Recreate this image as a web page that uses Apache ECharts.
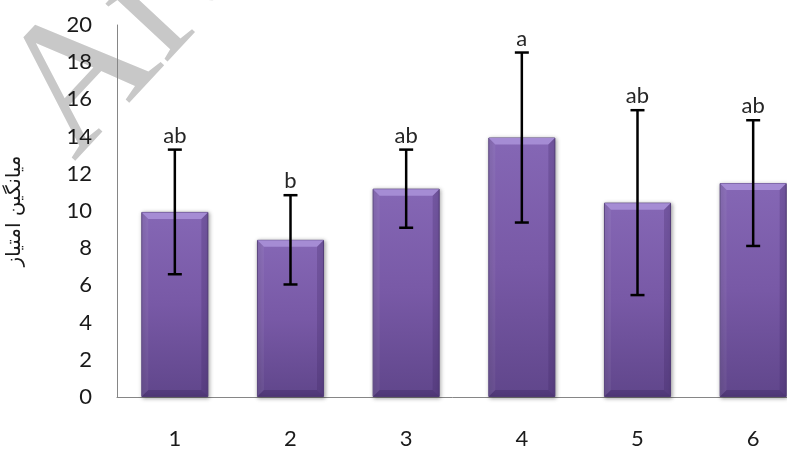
<!DOCTYPE html>
<html>
<head>
<meta charset="utf-8">
<script src="https://cdn.jsdelivr.net/npm/echarts@6/dist/echarts.min.js"></script>
<style>
html,body{margin:0;padding:0;background:#fff;overflow:hidden;}
#chart{width:787px;height:450px;}
</style>
</head>
<body>
<div id="chart"></div>
<script>
var categories = ['1', '2', '3', '4', '5', '6'];
var means = [9.95, 8.45, 11.2, 13.95, 10.45, 11.5];
var errors = [3.35, 2.4, 2.1, 4.57, 4.97, 3.38];
var letters = ['ab', 'b', 'ab', 'a', 'ab', 'ab'];
var yTicks = [0, 2, 4, 6, 8, 10, 12, 14, 16, 18, 20];
var yTitle = 'میانگین امتیاز';
var watermark = 'Archive of SID';

var chart = echarts.init(document.getElementById('chart'));

var barData = means.map(function (m, i) { return [i, m]; });
var errData = means.map(function (m, i) { return [i, m - errors[i], m + errors[i], m]; });

var option = {
  animation: false,
  backgroundColor: '#ffffff',
  graphic: [{
    type: 'text',
    x: 106, y: 192,
    rotation: 47 * Math.PI / 180,
    z: -1,
    silent: true,
    style: {
      text: watermark,
      font: '185px "Liberation Serif"',
      fill: '#c8c8c8',
      textAlign: 'left',
      textVerticalAlign: 'bottom'
    }
  }],
  grid: { left: 117, top: 25, width: 694, bottom: 53, containLabel: false, outerBoundsMode: 'none' },
  xAxis: {
    type: 'category',
    data: categories,
    axisLine: { lineStyle: { color: '#868686', width: 1 } },
    axisTick: { show: false },
    axisLabel: { color: '#1a1a1a', fontFamily: 'Lato', fontSize: 22, margin: 31 }
  },
  yAxis: {
    type: 'value',
    min: yTicks[0], max: yTicks[yTicks.length - 1], interval: 2,
    name: yTitle,
    nameLocation: 'middle',
    nameRotate: 90,
    nameGap: 92,
    nameTextStyle: { color: '#1a1a1a', fontFamily: 'DejaVu Sans', fontSize: 20 },
    axisLine: { show: true, lineStyle: { color: '#868686', width: 1 } },
    axisTick: { show: false },
    splitLine: { show: false },
    axisLabel: { color: '#1a1a1a', fontFamily: 'Lato', fontSize: 22, margin: 25 }
  },
  series: [{
    type: 'bar',
    data: barData,
    barWidth: '58%',
    z: 2,
    itemStyle: {
      color: new echarts.graphic.LinearGradient(0, 0, 0, 1, [
        { offset: 0, color: '#8567b5' },
        { offset: 0.5, color: '#7859a6' },
        { offset: 1, color: '#60468b' }
      ]),
      borderColor: '#56407c',
      borderWidth: 1,
      shadowBlur: 4,
      shadowColor: 'rgba(0,0,0,0.35)',
      shadowOffsetX: 1,
      shadowOffsetY: 1
    }
  }, {
    type: 'custom',
    z: 3,
    data: barData,
    renderItem: function (params, api) {
      var top = api.coord([api.value(0), api.value(1)]);
      var base = api.coord([api.value(0), 0]);
      var w = api.size([1, 0])[0] * 0.58;
      var x0 = top[0] - w / 2, x1 = top[0] + w / 2, y0 = top[1], b = 7;
      return {
        type: 'group',
        children: [{
          type: 'polygon',
          shape: { points: [[x0 + 0.5, y0 + 0.5], [x1 - 0.5, y0 + 0.5], [x1 - b, y0 + b], [x0 + b, y0 + b]] },
          style: { fill: '#a58cd4' }
        }, {
          type: 'polygon',
          shape: { points: [[x1 - 0.5, y0 + 0.5], [x1 - 0.5, base[1] - 0.5], [x1 - b, base[1] - b], [x1 - b, y0 + b]] },
          style: { fill: 'rgba(60,35,95,0.25)' }
        }, {
          type: 'polygon',
          shape: { points: [[x0 + 0.5, y0 + 0.5], [x0 + b, y0 + b], [x0 + b, base[1] - b], [x0 + 0.5, base[1] - 0.5]] },
          style: { fill: 'rgba(255,255,255,0.06)' }
        }, {
          type: 'polygon',
          shape: { points: [[x0 + 0.5, base[1] - 0.5], [x0 + b, base[1] - b], [x1 - b, base[1] - b], [x1 - 0.5, base[1] - 0.5]] },
          style: { fill: 'rgba(40,20,70,0.25)' }
        }]
      };
    }
  }, {
    type: 'custom',
    z: 5,
    data: errData,
    renderItem: function (params, api) {
      var i = api.value(0);
      var lo = api.coord([i, api.value(1)]);
      var hi = api.coord([i, api.value(2)]);
      var cap = 7;
      var st = { stroke: '#000', lineWidth: 2.5 };
      return {
        type: 'group',
        children: [
          { type: 'line', shape: { x1: lo[0], y1: lo[1], x2: hi[0], y2: hi[1] }, style: st },
          { type: 'line', shape: { x1: lo[0] - cap, y1: lo[1], x2: lo[0] + cap, y2: lo[1] }, style: st },
          { type: 'line', shape: { x1: hi[0] - cap, y1: hi[1], x2: hi[0] + cap, y2: hi[1] }, style: st },
          { type: 'text', x: hi[0], y: hi[1] - 3,
            style: { text: letters[params.dataIndex], font: '22px Lato', fill: '#262626', textAlign: 'center', textVerticalAlign: 'bottom' } }
        ]
      };
    }
  }]
};
chart.setOption(option);
</script>
</body>
</html>
